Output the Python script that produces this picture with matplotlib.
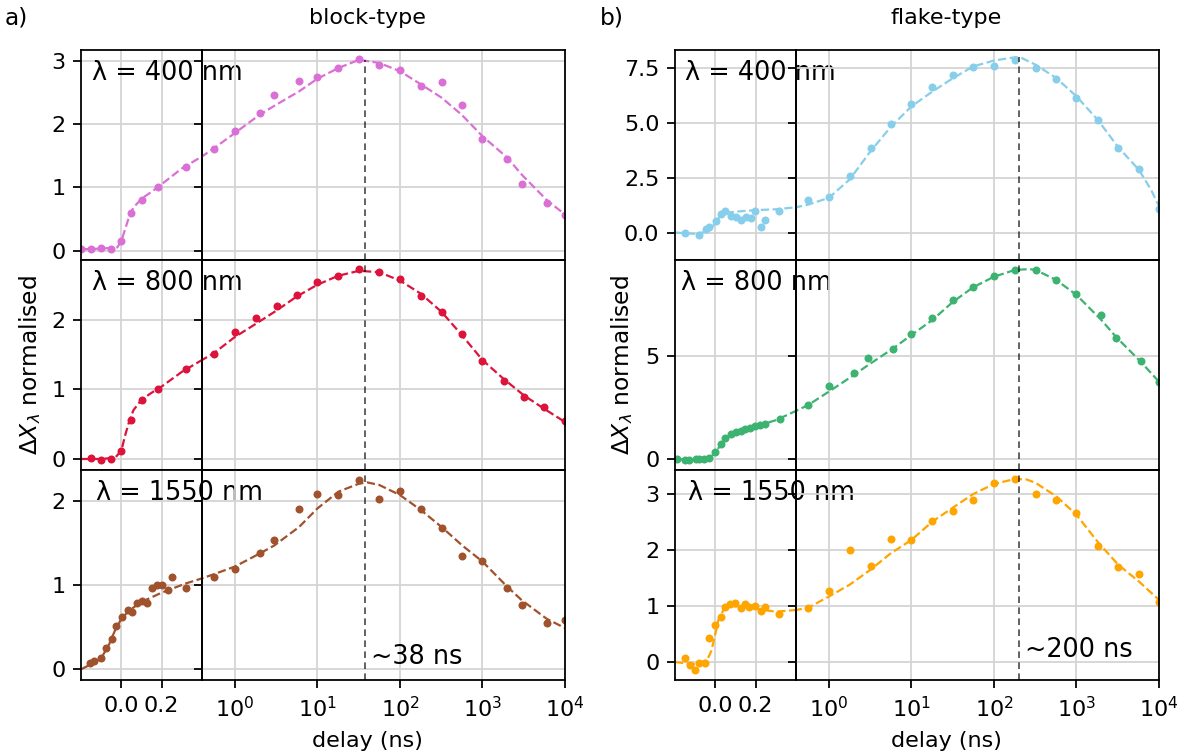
import numpy as np
import matplotlib
matplotlib.use("Agg")
import matplotlib.pyplot as plt
from matplotlib.transforms import blended_transform_factory

# ---------------- data ----------------
# panel a (block-type)
a1_t = [-0.2, -0.15, -0.10, -0.05, 0.0, 0.05, 0.10, 0.18, 0.32,
        0.56, 1, 2, 3, 6, 10, 18, 32, 56, 100, 180, 320, 570, 1000, 2000, 3000, 6000, 10000]
a1_v = [0.02, 0.03, 0.04, 0.03, 0.15, 0.59, 0.80, 1.00, 1.33,
        1.61, 1.89, 2.18, 2.47, 2.69, 2.75, 2.89, 3.03, 2.94, 2.86, 2.61, 2.67, 2.30, 1.77, 1.45, 1.06, 0.76, 0.57]
a1_fit_t = [-0.2, -0.1, -0.02, 0.0, 0.02, 0.04, 0.06, 0.1, 0.15, 0.2, 0.3, 0.4,
            0.56, 1, 2, 3, 6, 10, 18, 32, 56, 100, 180, 320, 560, 1000, 2000, 3000, 6000, 10000]
a1_fit_v = [0.02, 0.03, 0.05, 0.15, 0.35, 0.55, 0.68, 0.82, 0.93, 1.05, 1.30, 1.49,
            1.62, 1.86, 2.15, 2.29, 2.52, 2.72, 2.89, 3.02, 2.97, 2.84, 2.63, 2.42, 2.15, 1.81, 1.47, 1.20, 0.80, 0.57]

a2_t = [-0.15, -0.10, -0.05, 0.0, 0.05, 0.10, 0.18, 0.32,
        0.56, 1, 1.8, 3.2, 5.6, 10, 18, 32, 56, 100, 180, 320, 560, 1000, 1800, 3200, 5600, 10000]
a2_v = [0.02, -0.01, 0.005, 0.12, 0.565, 0.85, 1.005, 1.29,
        1.51, 1.82, 2.03, 2.19, 2.36, 2.54, 2.63, 2.72, 2.69, 2.58, 2.34, 2.11, 1.80, 1.41, 1.12, 0.89, 0.74, 0.54]
a2_fit_t = [-0.2, -0.1, -0.03, 0.0, 0.02, 0.04, 0.06, 0.1, 0.15, 0.2, 0.3, 0.4,
            0.56, 1, 1.8, 3.2, 5.6, 10, 18, 32, 56, 100, 180, 320, 560, 1000, 1800, 3200, 5600, 10000]
a2_fit_v = [0.0, 0.0, 0.02, 0.12, 0.35, 0.55, 0.70, 0.85, 0.95, 1.04, 1.25, 1.42,
            1.52, 1.75, 1.94, 2.13, 2.33, 2.50, 2.63, 2.70, 2.68, 2.56, 2.37, 2.11, 1.78, 1.42, 1.15, 0.91, 0.72, 0.53]

a3_t = [-0.154, -0.136, -0.10, -0.078, -0.048, -0.028, 0.002, 0.031, 0.051, 0.078, 0.102, 0.129,
        0.152, 0.178, 0.202, 0.23, 0.25, 0.319,
        0.56, 1, 2, 3, 6, 10, 18, 32, 56, 100, 180, 320, 570, 1000, 2000, 3000, 6000, 10000]
a3_v = [0.08, 0.10, 0.14, 0.25, 0.36, 0.52, 0.62, 0.70, 0.68, 0.79, 0.81, 0.79,
        0.96, 1.00, 1.00, 0.94, 1.10, 0.97,
        1.10, 1.19, 1.38, 1.54, 1.90, 2.08, 2.07, 2.25, 2.02, 2.12, 1.90, 1.68, 1.35, 1.29, 0.97, 0.76, 0.55, 0.59]
a3_fit_t = [-0.2, -0.15, -0.1, -0.06, -0.03, 0.0, 0.04, 0.1, 0.2, 0.32, 0.4,
            0.56, 1, 2, 3, 6, 10, 18, 32, 40, 56, 100, 180, 320, 570, 1000, 2000, 3000, 6000, 10000]
a3_fit_v = [0.0, 0.06, 0.13, 0.30, 0.47, 0.60, 0.70, 0.80, 0.91, 1.02, 1.08,
            1.13, 1.22, 1.375, 1.47, 1.69, 1.91, 2.11, 2.205, 2.22, 2.19, 2.07, 1.89, 1.69, 1.47, 1.28, 0.98, 0.82, 0.60, 0.49]

# panel b (flake-type)
b1_t = [-0.149, -0.079, -0.048, -0.030, 0.002, 0.03, 0.048, 0.08, 0.102, 0.126, 0.151, 0.175,
        0.198, 0.226, 0.246, 0.315,
        0.56, 1, 1.78, 3.2, 5.6, 10, 18, 32, 56, 100, 180, 320, 570, 1000, 1800, 3200, 5700, 10000]
b1_v = [-0.02, -0.11, 0.17, 0.23, 0.53, 0.85, 0.96, 0.77, 0.73, 0.56, 0.73, 0.67,
        1.00, 0.27, 0.56, 1.00,
        1.49, 1.64, 2.56, 3.86, 4.95, 5.86, 6.62, 7.17, 7.52, 7.56, 7.86, 7.48, 6.97, 6.11, 5.12, 3.83, 2.91, 1.05]
b1_fit_t = [-0.2, -0.1, -0.05, -0.02, 0.0, 0.02, 0.05, 0.1, 0.2, 0.3, 0.4,
            0.56, 1, 1.78, 3.2, 5.6, 10, 18, 32, 56, 100, 180, 210, 320, 570, 1000, 1800, 3200, 5700, 8000, 10000]
b1_fit_v = [0.0, -0.06, 0.03, 0.2, 0.45, 0.7, 0.9, 0.95, 1.02, 1.06, 1.15,
            1.27, 1.58, 2.41, 3.70, 4.80, 5.74, 6.42, 7.03, 7.56, 7.83, 7.98, 7.97, 7.64, 7.03, 6.20, 5.14, 3.89, 2.86, 1.95, 1.20]

b2_t = [-0.19, -0.149, -0.13, -0.098, -0.079, -0.054, -0.03, 0.0, 0.028, 0.049, 0.077, 0.102,
        0.125, 0.148, 0.170, 0.198, 0.22, 0.244, 0.32,
        0.56, 1, 2, 3, 6, 10, 18, 32, 56, 100, 180, 320, 570, 1000, 2000, 3000, 6000, 10000]
b2_v = [-0.02, -0.05, -0.05, 0.0, -0.02, -0.02, 0.06, 0.32, 0.71, 1.0, 1.21, 1.29,
        1.37, 1.45, 1.52, 1.61, 1.66, 1.69, 1.92,
        2.63, 3.52, 4.18, 4.89, 5.31, 6.06, 6.81, 7.71, 8.34, 8.85, 9.16, 9.16, 8.68, 7.98, 6.97, 5.84, 4.74, 3.71]
b2_fit_t = [-0.2, -0.1, -0.03, 0.0, 0.03, 0.05, 0.1, 0.2, 0.3, 0.4,
            0.56, 1, 2, 3, 6, 10, 18, 32, 56, 100, 180, 270, 320, 570, 1000, 2000, 3000, 6000, 10000]
b2_fit_v = [0.0, -0.03, 0.05, 0.3, 0.75, 1.0, 1.28, 1.58, 1.88, 2.33,
            2.61, 3.26, 4.06, 4.55, 5.35, 6.0, 6.73, 7.61, 8.31, 8.82, 9.15, 9.19, 9.15, 8.66, 7.94, 6.73, 5.92, 4.71, 3.74]

b3_t = [-0.149, -0.128, -0.1, -0.079, -0.049, -0.030, 0.0, 0.030, 0.049, 0.075, 0.098, 0.128,
        0.149, 0.167, 0.198, 0.228, 0.246, 0.318,
        0.56, 1, 1.78, 3.2, 5.6, 10, 18, 32, 56, 100, 180, 320, 570, 1000, 1800, 3200, 5700, 10000]
b3_v = [0.07, -0.05, -0.14, -0.02, -0.01, 0.43, 0.67, 0.80, 0.99, 1.03, 1.05, 0.97,
        1.04, 0.98, 1.00, 0.91, 0.99, 0.86,
        0.97, 1.27, 2.00, 1.71, 2.19, 2.18, 2.52, 2.70, 2.89, 3.20, 3.27, 3.00, 2.90, 2.66, 2.07, 1.69, 1.58, 1.08]
b3_fit_t = [-0.2, -0.1, -0.04, -0.02, 0.0, 0.015, 0.04, 0.07, 0.15, 0.22, 0.3, 0.4,
            0.56, 1, 1.78, 3.2, 5.6, 10, 18, 32, 56, 100, 180, 250, 320, 570, 1000, 1800, 3200, 5700, 10000]
b3_fit_v = [0.0, -0.04, 0.04, 0.2, 0.5, 0.75, 0.93, 1.0, 0.99, 0.94, 0.9, 0.93,
            0.97, 1.17, 1.38, 1.65, 1.94, 2.18, 2.51, 2.76, 3.0, 3.18, 3.27, 3.26, 3.20, 2.96, 2.63, 2.15, 1.74, 1.44, 1.11]

wavelengths = ["400", "800", "1550"]
colors_a = ["orchid", "crimson", "sienna"]
colors_b = ["skyblue", "mediumseagreen", "orange"]
peak_a, peak_b = 38, 200
peak_labels = ["~38 ns", "~200 ns"]
titles = ["block-type", "flake-type"]
panel_tags = ["a)", "b)"]

# ---------------- layout ----------------
W, H = 1184, 755
fig = plt.figure(figsize=(W / 160, H / 160), dpi=160)

row_bottoms = [260, 470, 680]   # pixel y of axes bottoms (top row first)
row_h = 210
lin_w, log_w = 121, 363
lefts = [81, 675]

ylims_a = [(-0.15, 3.175), (-0.158, 2.855), (-0.127, 2.367)]
ylims_b = [(-1.25, 8.31), (-0.53, 9.63), (-0.32, 3.43)]
yticks_a = [[0, 1, 2, 3], [0, 1, 2], [0, 1, 2]]
yticks_b = [[0, 2.5, 5, 7.5], [0, 5], [0, 1, 2, 3]]
lam_x_a = [0.095, 0.095, 0.125]
lam_x_b = [0.085, 0.052, 0.105]

series_a = [(a1_t, a1_v, a1_fit_t, a1_fit_v), (a2_t, a2_v, a2_fit_t, a2_fit_v), (a3_t, a3_v, a3_fit_t, a3_fit_v)]
series_b = [(b1_t, b1_v, b1_fit_t, b1_fit_v), (b2_t, b2_v, b2_fit_t, b2_fit_v), (b3_t, b3_v, b3_fit_t, b3_fit_v)]

grid_kw = dict(color="#d4d4d4", lw=0.8)
MS = 3.6


def fr(x0, ybot, w, h):
    return [x0 / W, 1 - ybot / H, w / W, h / H]


for p, (series, colors, ylims, yticks, lamx, peak) in enumerate([
        (series_a, colors_a, ylims_a, yticks_a, lam_x_a, peak_a),
        (series_b, colors_b, ylims_b, yticks_b, lam_x_b, peak_b)]):
    x0 = lefts[p]
    for r in range(3):
        t, v, ft, fv = [np.asarray(s, float) for s in series[r]]
        c = colors[r]
        axl = fig.add_axes(fr(x0, row_bottoms[r], lin_w, row_h))
        axg = fig.add_axes(fr(x0 + lin_w, row_bottoms[r], log_w, row_h))
        axg.patch.set_visible(False)
        for ax in (axl, axg):
            ax.set_axisbelow(True)
            ax.grid(True, **grid_kw)
            ax.set_ylim(*ylims[r])
            ax.set_yticks(yticks[r])
        # linear part
        axl.plot(t, v, "o", color=c, ms=MS, mew=0)
        axl.plot(ft, fv, "--", color=c, lw=1)
        axl.set_xlim(-0.2, 0.4)
        axl.set_xticks([0.0, 0.2])
        axl.set_xticklabels(["0.0", "0.2"])
        if p == 1:
            axl.set_yticklabels([f"{y:.1f}" for y in yticks[r]] if r == 0 else [f"{y:g}" for y in yticks[r]])
        # log part
        mp = t > 0
        mf = ft > 0
        axg.plot(t[mp], v[mp], "o", color=c, ms=MS, mew=0)
        axg.plot(ft[mf], fv[mf], "--", color=c, lw=1)
        axg.set_xscale("log")
        axg.set_xlim(0.4, 1e4)
        axg.set_xticks([1, 10, 100, 1000, 10000])
        axg.xaxis.set_minor_locator(matplotlib.ticker.NullLocator())
        axg.tick_params(axis="y", labelleft=False)
        # vertical marker line
        if r == 0:
            axg.vlines(peak, ylims[r][0], max(fv), colors="k", alpha=0.6, lw=0.9,
                       linestyles=(0, (3.3, 2.2)))
        else:
            axg.axvline(peak, color="k", alpha=0.6, lw=0.9, ls=(0, (3.3, 2.2)))
        if r < 2:
            axl.tick_params(axis="x", bottom=False, labelbottom=False)
            axg.tick_params(axis="x", bottom=False, labelbottom=False)
        else:
            tr = blended_transform_factory(axg.transData, axg.transAxes)
            axg.text(peak * 1.19, 0.11 if p == 0 else 0.143, peak_labels[p], transform=tr,
                     ha="left", va="center", fontsize=11.5)
        axl.text(lamx[r], 0.89, f"λ = {wavelengths[r]} nm", transform=axl.transAxes,
                 ha="left", va="center", fontsize=11.5, zorder=10)

# panel labels / titles / axis labels
for p in range(2):
    cx = [367, 946][p]
    fig.text(cx / W, 1 - 18 / H, titles[p], ha="center", va="center", fontsize=10)
    fig.text(cx / W, 1 - 741 / H, "delay (ns)", ha="center", va="center", fontsize=10)
    fig.text([5, 600][p] / W, 1 - 18 / H, panel_tags[p], ha="left", va="center", fontsize=10.5)
    fig.text([30, 622][p] / W, 1 - 365 / H, r"$\Delta X_\lambda$ normalised", rotation=90,
             ha="center", va="center", fontsize=10.5)

fig.savefig("out.png", dpi=160)
